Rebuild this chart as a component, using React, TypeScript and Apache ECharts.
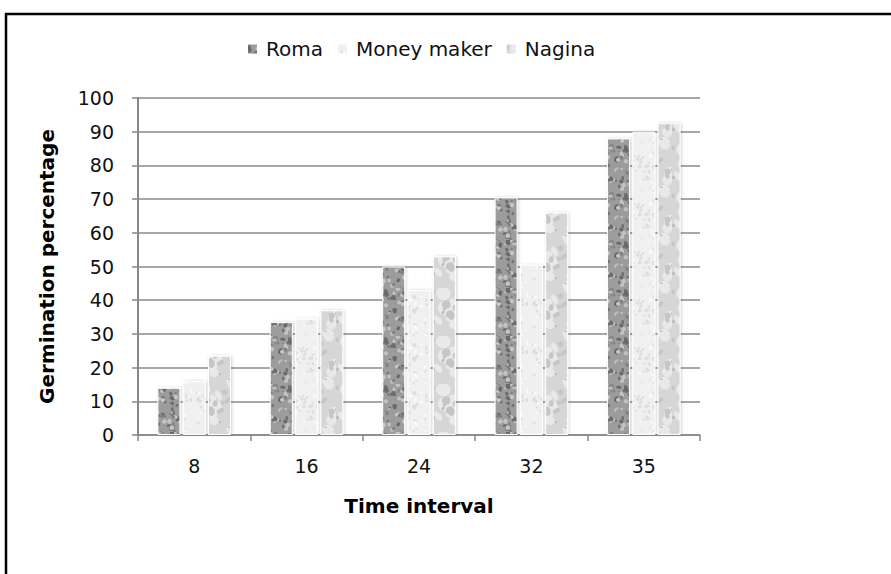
import React, { useEffect, useRef } from "react";
import * as echarts from "echarts";

const categories = ["8", "16", "24", "32", "35"];
const seriesNames = ["Roma", "Money maker", "Nagina"];
const romaValues = [14, 33.5, 50, 70.5, 88];
const moneyMakerValues = [16, 34.5, 43, 50.5, 90];
const naginaValues = [23.5, 37, 53, 66, 92.5];
const yTicks = { min: 0, max: 100, interval: 10 };

function makeTexture(base: string, spots: Array<[string, number, number, number]>, seed: number) {
  const c = document.createElement("canvas");
  c.width = 48;
  c.height = 48;
  const ctx = c.getContext("2d")!;
  ctx.fillStyle = base;
  ctx.fillRect(0, 0, 48, 48);
  let s = seed;
  const rnd = () => {
    s = (s * 1103515245 + 12345) % 2147483648;
    return s / 2147483648;
  };
  for (const [color, count, rmin, rmax] of spots) {
    ctx.fillStyle = color;
    for (let i = 0; i < count; i++) {
      const x = rnd() * 48;
      const y = rnd() * 48;
      const r = rmin + rnd() * (rmax - rmin);
      ctx.beginPath();
      ctx.ellipse(x, y, r, r * (0.5 + rnd() * 0.6), rnd() * Math.PI, 0, Math.PI * 2);
      ctx.fill();
    }
  }
  return c;
}

export default function App() {
  const ref = useRef<HTMLDivElement>(null);
  useEffect(() => {
    if (!ref.current) return;
    const chart = echarts.init(ref.current, undefined, { renderer: "svg" });
    const romaTex = makeTexture(
      "#9c9c9c",
      [
        ["#6a6a6a", 45, 1, 3],
        ["#c4c4c4", 35, 1, 2.5],
        ["#828282", 25, 0.8, 2],
      ],
      7
    );
    const mmTex = makeTexture(
      "#f0f0f0",
      [
        ["#dedede", 35, 1, 2.5],
        ["#fafafa", 25, 1, 2],
      ],
      13
    );
    const nagTex = makeTexture(
      "#d6d6d6",
      [
        ["#e9e9e9", 14, 3, 7],
        ["#c6c6c6", 12, 2, 5],
        ["#bababa", 6, 1, 2],
      ],
      29
    );
    const pat = (img: HTMLCanvasElement) => ({ image: img, repeat: "repeat" });
    const textures = [romaTex, mmTex, nagTex];
    const values = [romaValues, moneyMakerValues, naginaValues];
    const font = "'DejaVu Sans', sans-serif";

    chart.setOption({
      animation: false,
      backgroundColor: "#ffffff",
      textStyle: { fontFamily: font },
      legend: {
        top: 34,
        left: 241,
        itemWidth: 11,
        itemHeight: 11,
        itemGap: 13,
        icon: "rect",
        textStyle: { fontSize: 20, color: "#111", fontFamily: font, padding: [0, 0, 0, 3] },
        data: seriesNames,
      },
      grid: { left: 138, right: 191, top: 98, bottom: 139 },
      xAxis: {
        type: "category",
        data: categories,
        name: "Time interval",
        nameLocation: "middle",
        nameGap: 61,
        nameTextStyle: { fontSize: 20, fontWeight: "bold", color: "#000", fontFamily: font },
        axisLine: { lineStyle: { color: "#878787", width: 1.5 } },
        axisTick: { show: true, length: 6, lineStyle: { color: "#878787", width: 1.5 } },
        axisLabel: { fontSize: 19, color: "#111", margin: 21, fontFamily: font },
      },
      yAxis: {
        type: "value",
        min: yTicks.min,
        max: yTicks.max,
        interval: yTicks.interval,
        name: "Germination percentage",
        nameLocation: "middle",
        nameGap: 81,
        nameTextStyle: { fontSize: 20, fontWeight: "bold", color: "#000", fontFamily: font },
        axisLine: { show: true, lineStyle: { color: "#878787", width: 2 } },
        axisTick: { show: true, length: 6, lineStyle: { color: "#878787", width: 1.5 } },
        axisLabel: { fontSize: 19, color: "#111", margin: 24, fontFamily: font },
        splitLine: { lineStyle: { color: "#8a8a8a", width: 1.5 } },
      },
      series: seriesNames.map((name, i) => ({
        name,
        type: "bar",
        data: values[i],
        barWidth: 23,
        barGap: "10%",
        itemStyle: {
          color: pat(textures[i]),
          borderColor: "#ffffff",
          borderWidth: 1,
          shadowColor: "rgba(0,0,0,0.18)",
          shadowBlur: 3,
          shadowOffsetX: 1,
        },
      })),
      graphic: [
        { type: "line", shape: { x1: 5, y1: 14, x2: 891, y2: 14 }, style: { stroke: "#000", lineWidth: 2.5 } },
        { type: "line", shape: { x1: 6, y1: 13, x2: 6, y2: 574 }, style: { stroke: "#000", lineWidth: 2.5 } },
      ],
    });
    return () => chart.dispose();
  }, []);
  return (
    <div
      ref={ref}
      style={{ position: "fixed", left: 0, top: 0, width: 891, height: 574, background: "#fff" }}
    />
  );
}
